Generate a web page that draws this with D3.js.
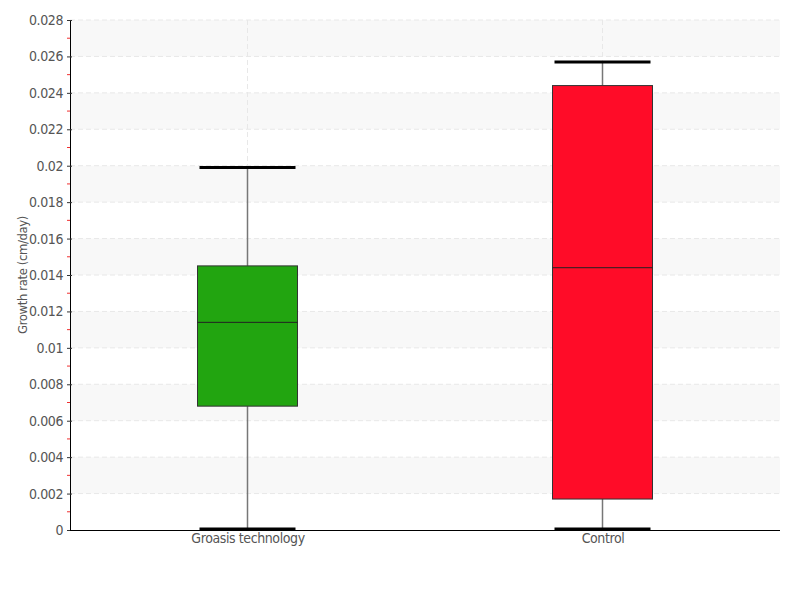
<!DOCTYPE html>
<html><head><meta charset="utf-8">
<script src="https://cdn.jsdelivr.net/npm/d3@7"></script>
<style>body{margin:0;background:#fff}svg{display:block}text{font-family:"DejaVu Sans Condensed","Liberation Sans Narrow",Roboto,sans-serif;font-stretch:condensed;letter-spacing:-0.4px}</style>
</head><body><svg id="c" width="800" height="600"></svg>
<script>
const categories = ["Groasis technology", "Control"];
const whiskerMin = [0.00005, 0.00005];
const q1 = [0.0068, 0.0017];
const median = [0.0114, 0.0144];
const q3 = [0.0145, 0.0244];
const whiskerMax = [0.0199, 0.0257];
const colors = ["#22a510", "#ff0c28"];
const yTicks = [0,0.002,0.004,0.006,0.008,0.01,0.012,0.014,0.016,0.018,0.02,0.022,0.024,0.026,0.028];
const yLabel = "Growth rate (cm/day)";

const svg = d3.select("#c");
const m = {l:70, r:20, t:20, b:70};
const W = 800, H = 600;
const x = d3.scalePoint().domain(categories).range([m.l, W-m.r]).padding(0.5);
const y = d3.scaleLinear().domain([0, 0.028]).range([H-m.b, m.t]);

const g = svg.append("g");
for (let i = 1; i < yTicks.length; i += 2) {
  g.append("rect").attr("x", m.l).attr("width", W-m.r-m.l)
    .attr("y", y(yTicks[i+1])).attr("height", y(yTicks[i]) - y(yTicks[i+1]))
    .attr("fill", "#f8f8f8");
}
g.selectAll("line.h").data(yTicks.slice(1)).join("line")
  .attr("x1", m.l).attr("x2", W-m.r).attr("y1", d=>y(d)).attr("y2", d=>y(d))
  .attr("stroke", "#e8e8e8").attr("stroke-dasharray", "5,3");
g.selectAll("line.v").data(categories).join("line")
  .attr("x1", d=>x(d)).attr("x2", d=>x(d)).attr("y1", m.t).attr("y2", H-m.b)
  .attr("stroke", "#e8e8e8").attr("stroke-dasharray", "5,3");

const bw = 100;
categories.forEach((c, i) => {
  const cx = x(c);
  svg.append("line").attr("x1", cx).attr("x2", cx).attr("y1", y(whiskerMin[i])).attr("y2", y(q1[i]))
    .attr("stroke", "#777").attr("stroke-width", 1.5);
  svg.append("line").attr("x1", cx).attr("x2", cx).attr("y1", y(q3[i])).attr("y2", y(whiskerMax[i]))
    .attr("stroke", "#777").attr("stroke-width", 1.5);
  svg.append("rect").attr("x", cx-bw/2).attr("width", bw)
    .attr("y", y(q3[i])).attr("height", y(q1[i]) - y(q3[i]))
    .attr("fill", colors[i]).attr("stroke", "#333").attr("stroke-width", 1);
  svg.append("line").attr("x1", cx-bw/2).attr("x2", cx+bw/2).attr("y1", y(median[i])).attr("y2", y(median[i]))
    .attr("stroke", "#222").attr("stroke-width", 1);
  [whiskerMin[i], whiskerMax[i]].forEach(v => {
    svg.append("line").attr("x1", cx-48).attr("x2", cx+48).attr("y1", y(v)).attr("y2", y(v))
      .attr("stroke", "#000").attr("stroke-width", 3);
  });
});

const minor = yTicks.slice(0,-1).map(d => d + 0.001);
svg.selectAll("line.minor").data(minor).join("line")
  .attr("x1", m.l-3).attr("x2", m.l).attr("y1", d=>y(d)).attr("y2", d=>y(d))
  .attr("stroke", "#f03030").attr("stroke-width", 1);

const ya = svg.append("g").attr("transform", `translate(${m.l},0)`)
  .call(d3.axisLeft(y).tickValues(yTicks).tickSize(3).tickPadding(4).tickFormat(d => d3.format("")(+d.toFixed(3))));
ya.select(".domain").attr("stroke", "#000");
ya.selectAll(".tick line").attr("stroke", "#333").attr("x1", 2).attr("x2", -3);
ya.selectAll("text").attr("fill", "#555").attr("font-size", 14);

const xa = svg.append("g").attr("transform", `translate(0,${H-m.b})`)
  .call(d3.axisBottom(x).tickSize(0).tickPadding(3));
xa.select(".domain").attr("stroke", "#000").attr("d", `M${m.l},0.5H${W-m.r}`);
xa.selectAll("text").attr("fill", "#555").attr("font-size", 14);

svg.append("text").attr("transform", `translate(27,${(m.t + H - m.b)/2}) rotate(-90)`)
  .attr("text-anchor", "middle").attr("fill", "#555").attr("font-size", 13).text(yLabel);
</script></body></html>
